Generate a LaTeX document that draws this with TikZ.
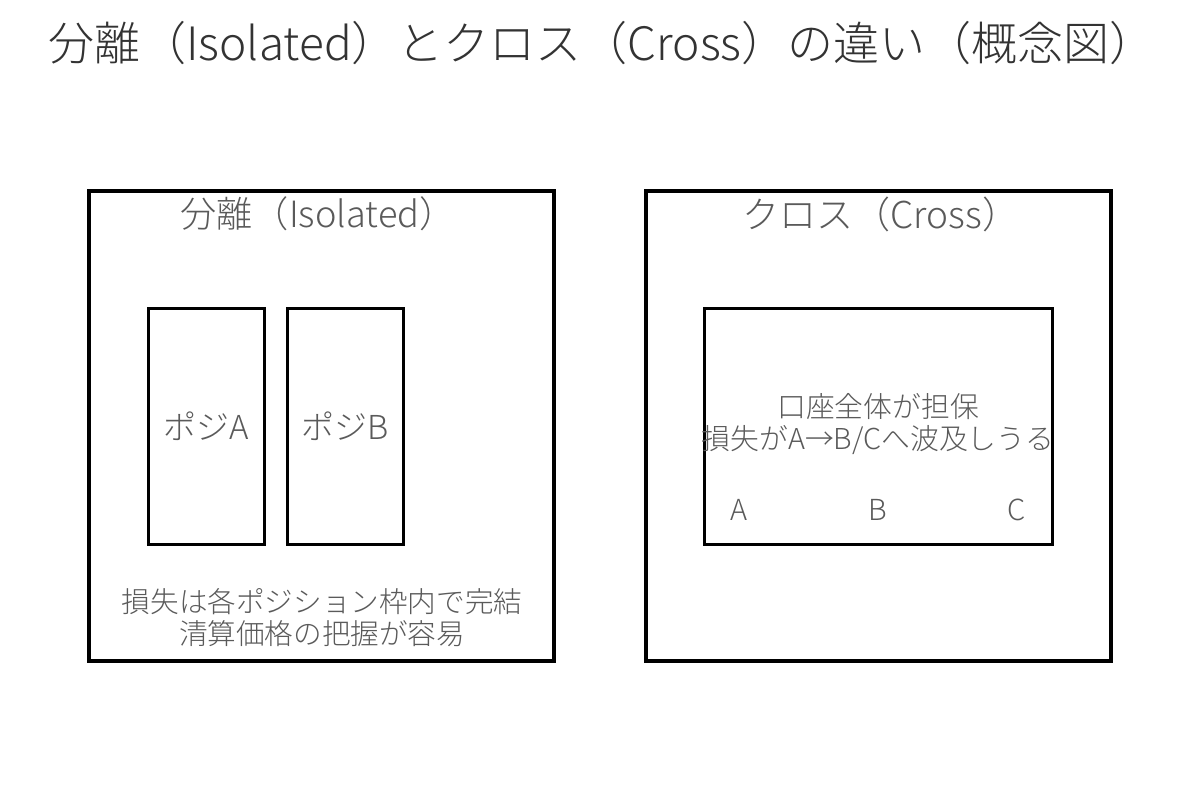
\documentclass[tikz,border=0pt]{standalone}
\usepackage{fontspec}
\setmainfont{Noto Sans CJK JP Light}
\definecolor{titlegray}{HTML}{333333}
\definecolor{textgray}{HTML}{5A5A5A}
\tikzset{
  outerbox/.style={draw=black, line width=4pt, minimum width=465pt, minimum height=470pt, inner sep=0pt},
  innerbox/.style={draw=black, line width=3pt, inner sep=0pt},
  lbl/.style={text=textgray, inner sep=0pt, align=center},
}
\begin{document}
\begin{tikzpicture}[x=1pt,y=-1pt]
\useasboundingbox (0,0) rectangle (1200,799);
\fill[white] (0,0) rectangle (1200,799);
\node[anchor=west, text=titlegray, inner sep=0pt, font=\fontsize{46}{54}\selectfont] (title) at (48,43) {分離（Isolated）とクロス（Cross）の違い（概念図）};
% left
\node[outerbox] (L) at (321.5,426) {};
\node[innerbox, minimum width=116pt, minimum height=235pt] (PA) at (206,426.5) {};
\node[innerbox, minimum width=116pt, minimum height=235pt] (PB) at (345,426.5) {};
\node[lbl, font=\fontsize{36.2}{42}\selectfont] (Lh) at (318,214) {分離（Isolated）};
\node[lbl, font=\fontsize{33}{38}\selectfont] at (PA) {ポジA};
\node[lbl, font=\fontsize{33}{38}\selectfont] at (PB) {ポジB};
\node[lbl, font=\fontsize{28.6}{32}\selectfont] (Lf) at (322,618) {損失は各ポジション枠内で完結\\清算価格の把握が容易};
% right
\node[outerbox] (R) at (878,426) {};
\node[innerbox, minimum width=348pt, minimum height=235pt] (RI) at (878,426.5) {};
\node[lbl, font=\fontsize{37}{42}\selectfont] (Rh) at (881,214) {クロス（Cross）};
\node[lbl, font=\fontsize{28.8}{32}\selectfont] (Rt) at (878,424) {口座全体が担保\\損失がA→B/Cへ波及しうる};
\node[lbl, font=\fontsize{29}{32}\selectfont] (A) at (739,510) {A};
\node[lbl, font=\fontsize{29}{32}\selectfont] (B) at (878,510) {B};
\node[lbl, font=\fontsize{29}{32}\selectfont] (C) at (1017,510) {C};
\end{tikzpicture}
\end{document}
